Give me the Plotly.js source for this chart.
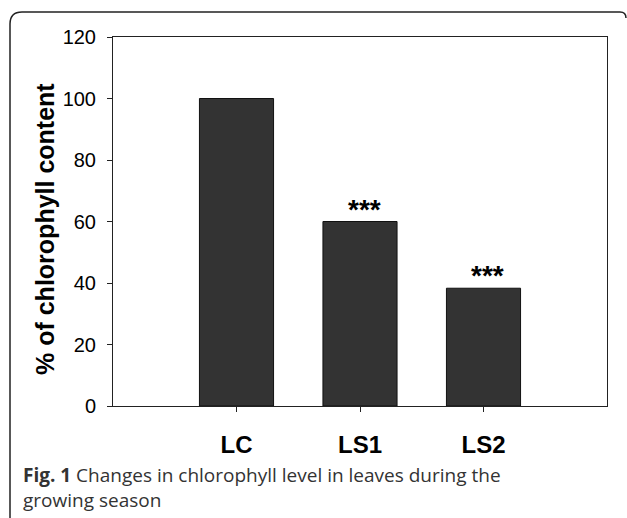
<!DOCTYPE html>
<html>
<head>
<meta charset="utf-8">
<script src="https://cdn.plot.ly/plotly-3.0.1.min.js"></script>
<style>html,body{margin:0;padding:0;background:#fff;}</style>
</head>
<body>
<div id="chart" style="width:627px;height:518px;"></div>
<script>
// Data
const categories = ["LC", "LS1", "LS2"];
const values = [100, 60, 38.3];
const significance = ["", "***", "***"];
const yTicks = [0, 20, 40, 60, 80, 100, 120];
const yTitle = "% of chlorophyll content";
const captionBold = "Fig. 1";
const captionText = " Changes in chlorophyll level in leaves during the<br>growing season";

const W = 627, H = 518;
const M = {l: 113, r: 20, t: 37, b: 112};
const pw = W - M.l - M.r, ph = H - M.t - M.b;
function px(x) { return (x - M.l) / pw; }
function py(y) { return (H - M.b - y) / ph; }

const trace = {
  type: "bar",
  x: categories,
  y: values,
  width: 0.6,
  marker: {color: "#333333", line: {color: "#111111", width: 1}},
  hoverinfo: "skip"
};

const annotations = [];
categories.forEach((c, i) => {
  if (significance[i]) {
    annotations.push({
      x: c, y: values[i], xref: "x", yref: "y",
      text: "<b>" + significance[i] + "</b>",
      showarrow: false, yanchor: "bottom", xshift: 4, yshift: -5,
      font: {family: "Liberation Sans, Arial, sans-serif", size: 28, color: "#000"}
    });
  }
});
// y-axis title
annotations.push({
  xref: "paper", yref: "paper", x: px(45), y: py(229),
  xanchor: "center", yanchor: "middle", textangle: -90,
  text: "<b>" + yTitle + "</b>", showarrow: false,
  font: {family: "Liberation Sans, Arial, sans-serif", size: 25, color: "#000"}
});
// caption
annotations.push({
  xref: "paper", yref: "paper",
  x: px(21), y: py(460), xanchor: "left", yanchor: "top", align: "left",
  text: "<b>" + captionBold + "</b>" + captionText,
  showarrow: false,
  font: {family: "Open Sans, Noto Sans, sans-serif", size: 19, color: "#333"}
});

// Rounded outer frame (open at the bottom)
const fl = px(10), ft = py(12), fr = px(626), fb = py(520);
const rx = 12 / pw, ry = 12 / ph;
const framePath = `M ${fl} ${fb} L ${fl} ${ft - ry} Q ${fl} ${ft} ${fl + rx} ${ft} L ${fr - rx/2} ${ft} Q ${fr} ${ft} ${fr} ${ft - ry/2}`;

const layout = {
  width: W, height: H,
  margin: M,
  paper_bgcolor: "#fff", plot_bgcolor: "#fff",
  showlegend: false,
  xaxis: {
    type: "category",
    range: [-1, 3],
    showline: true, linecolor: "#222", linewidth: 1, mirror: true,
    ticks: "outside", ticklen: 5, tickcolor: "#222",
    tickfont: {family: "Liberation Sans, Arial, sans-serif", size: 24, color: "#000", weight: "bold"},
    ticklabelstandoff: 12,
    showgrid: false, zeroline: false, fixedrange: true
  },
  yaxis: {
    range: [0, 120],
    tickvals: yTicks,
    showline: true, linecolor: "#222", linewidth: 1, mirror: true,
    ticks: "outside", ticklen: 5, tickcolor: "#222",
    tickfont: {family: "Liberation Sans, Arial, sans-serif", size: 20, color: "#000"},
    ticklabelstandoff: 7,
    showgrid: false, zeroline: false, fixedrange: true
  },
  annotations: annotations,
  shapes: [{
    type: "path", xref: "paper", yref: "paper", path: framePath,
    line: {color: "#222", width: 1.5}, layer: "above"
  }]
};

Plotly.newPlot("chart", [trace], layout, {displayModeBar: false, staticPlot: true});
</script>
</body>
</html>
